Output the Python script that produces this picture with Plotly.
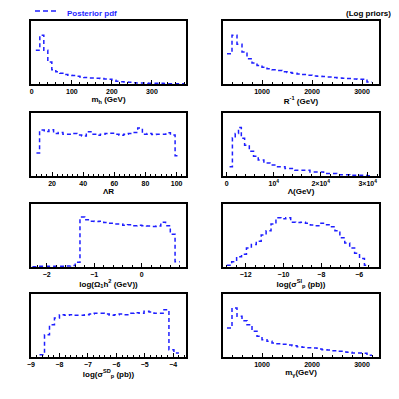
import numpy as np
import plotly.graph_objects as go

# ---- data (bin edges + heights, arbitrary units) ----
mh_edges = list(range(10, 390, 10))
mh_vals = [100, 145, 100, 65, 42, 36, 32, 28, 26, 25, 23, 21, 19, 18, 18, 17, 16, 15, 14,
           11, 8, 7, 6, 5, 4, 3, 3, 3, 2, 2, 2, 2, 1, 1, 1, 1, 1]

rinv_edges = list(range(300, 3300, 100))
rinv_vals = [90, 145, 118, 95, 75, 62, 55, 50, 45, 42, 40, 36, 34, 32, 30, 28, 26, 24, 23,
             22, 21, 19, 18, 17, 16, 15, 14, 14, 6]

lr_edges = [10] + list(range(12, 100, 3)) + [101]
lr_vals = [67, 134, 130, 135, 124, 127, 122, 122, 124, 120, 117, 129, 122, 119, 122, 124, 125,
           122, 119, 122, 124, 127, 140, 122, 124, 121, 122, 122, 126, 120, 59]

lam_edges = [600, 1200, 1800, 2500, 3100, 3800, 4800, 5700, 6700, 7900, 9200, 10600, 12400,
             14500, 17700, 20600, 23400, 26200, 29800, 30500]
lam_vals = [27, 112, 124, 142, 110, 90, 72, 58, 47, 38, 32, 27, 22, 17, 12, 7, 4, 2, 1]

om_edges = list(np.round(np.arange(-2.3, 0.81, 0.1), 2))
om_vals = [1, 2, 2, 2, 2, 2, 2, 3, 4, 14, 145, 137, 133, 132, 133, 129, 127, 125, 125, 121,
           123, 120, 121, 120, 119, 118, 119, 130, 120, 95, 15]

si_edges = list(np.round(-13.0 + 0.26 * np.arange(30), 3))
si_vals = [5, 15, 30, 37, 55, 65, 75, 93, 105, 125, 143, 140, 143, 130, 129, 130, 127, 122,
           120, 127, 123, 117, 105, 85, 70, 55, 40, 25, 5]

sd_edges = list(np.round(-8.7 + 0.175 * np.arange(29), 3))
sd_vals = [7, 67, 97, 117, 127, 125, 127, 125, 125, 127, 129, 131, 131, 129, 125, 127, 129,
           127, 131, 133, 131, 137, 135, 131, 131, 142, 22, 12]

mg_edges = list(range(300, 3300, 100))
mg_vals = [87, 147, 122, 109, 97, 77, 62, 52, 47, 42, 40, 38, 36, 34, 31, 29, 28, 27, 24, 22,
           21, 19, 17, 15, 14, 12, 12, 11, 5]

panels = [
    (mh_edges, mh_vals, [-2, 385], 187, "m<sub>h</sub> (GeV)", dict(dtick=100), 20),
    (rinv_edges, rinv_vals, [220, 3340], 187, "R<sup>-1</sup> (GeV)", dict(dtick=1000), 200),
    (lr_edges, lr_vals, [6.5, 106], 184, "ΛR", dict(dtick=20), 20 / 6),
    (lam_edges, lam_vals, [-800, 32400], 184, "Λ(GeV)",
     dict(tickvals=[0, 10000, 20000, 30000],
          ticktext=["0", "10<sup>4</sup>", "2×10<sup>4</sup>", "3×10<sup>4</sup>"]), 2000),
    (om_edges, om_vals, [-2.33, 0.93], 183, "log(Ω<sub>1</sub>h<sup>2</sup> (GeV))", dict(dtick=1), 0.2),
    (si_edges, si_vals, [-13.2, -4.95], 183, "log(σ<sup>SI</sup><sub>p</sub> (pb))", dict(dtick=2), 0.5),
    (sd_edges, sd_vals, [-9.0, -3.55], 189, "log(σ<sup>SD</sup><sub>p</sub> (pb))", dict(dtick=1), 0.2),
    (mg_edges, mg_vals, [220, 3340], 189, "m<sub>γ</sub>(GeV)", dict(dtick=1000), 200),
]

# the page body has an 8px margin, so work in a 391px canvas shifted by 8
OFF = 8
W = 391.0
cols = [(31, 186), (223, 379)]
rows = [21, 113, 204, 294]
box_h = 63
BLUE = "#1f1fff"


def px(p):
    return (p - OFF) / W


def py(p):
    return 1 - (p - OFF) / W


fig = go.Figure()
font = dict(family="Liberation Sans, Arial, sans-serif", size=8, color="black", weight="bold")

for i, (edges, vals, xr, ymax, title, tick, minor_dt) in enumerate(panels):
    n = i + 1
    c = cols[i % 2]
    r = rows[i // 2]
    xa = "x" if n == 1 else f"x{n}"
    ya = "y" if n == 1 else f"y{n}"
    fig.add_trace(go.Scatter(
        x=edges, y=list(vals) + [vals[-1]], mode="lines", line_shape="hv",
        line=dict(color=BLUE, width=1.5, dash="4px,3px"),
        showlegend=False, xaxis=xa, yaxis=ya, hoverinfo="skip"))
    fig.layout[f"xaxis{'' if n == 1 else n}"] = dict(
        domain=[px(c[0]), px(c[1])], anchor=ya, range=xr,
        showline=True, linecolor="black", linewidth=1.5, mirror=True,
        ticks="inside", ticklen=4, tickwidth=1, tickcolor="black",
        minor=dict(ticks="inside", ticklen=2, dtick=minor_dt, tickcolor="black"),
        showgrid=False, zeroline=False, tickfont=dict(font, size=7), automargin=False,
        title=dict(text=title, font=font, standoff=2), **tick)
    fig.layout[f"yaxis{'' if n == 1 else n}"] = dict(
        domain=[py(r + box_h), py(r)], anchor=xa, range=[0, ymax], automargin=False,
        showline=True, linecolor="black", linewidth=1.5, mirror=True,
        showticklabels=False, ticks="", showgrid=False, zeroline=False)

# legend key drawn by hand
fig.add_shape(type="line", xref="paper", yref="paper", x0=px(35), x1=px(58), y0=py(11), y1=py(11),
              line=dict(color=BLUE, width=1.5, dash="5px,3px"))
fig.add_annotation(text="<b>Posterior pdf</b>", x=px(66), y=1, xref="paper", yref="paper",
                   xanchor="left", yanchor="top", showarrow=False, borderpad=0,
                   font=dict(family="Liberation Sans, Arial, sans-serif", size=8, color=BLUE))
fig.add_annotation(text="<b>(Log priors)</b>", x=px(368), y=1, xref="paper", yref="paper",
                   xanchor="center", yanchor="top", showarrow=False, borderpad=0,
                   font=dict(family="Liberation Sans, Arial, sans-serif", size=8, color="black"))

fig.update_layout(
    width=391, height=391, margin=dict(l=0, r=0, t=0, b=0),
    paper_bgcolor="white", plot_bgcolor="white", showlegend=False,
)

fig.write_html("out.html")
